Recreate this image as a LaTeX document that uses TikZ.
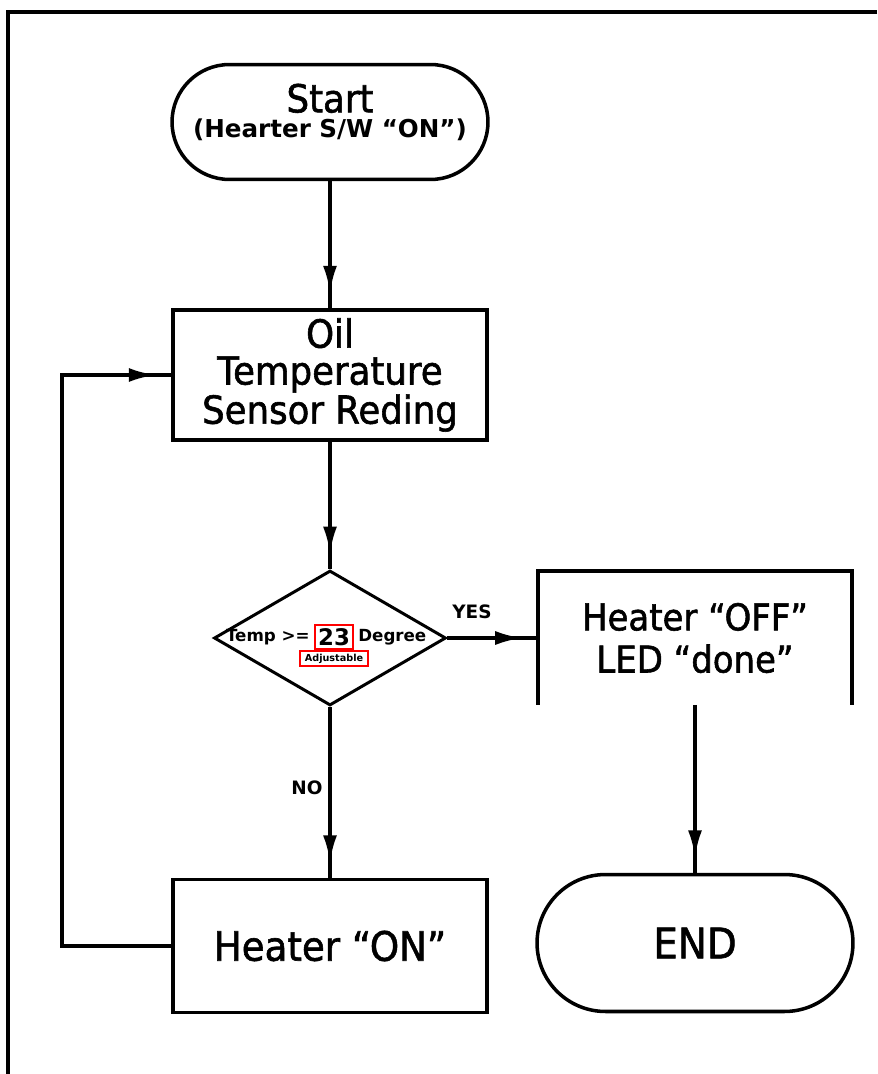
\documentclass[tikz,border=0pt]{standalone}
\usepackage{fontspec}
\setmainfont[FakeStretch=0.92,FakeBold=1.5]{DejaVu Sans}
\newfontfamily\tagfont{DejaVu Sans}
\usetikzlibrary{positioning,shapes.geometric,shapes.misc,decorations.markings,arrows.meta}

\begin{document}
\begin{tikzpicture}[
  x=0.02cm, y=-0.02cm,
  line/.style={line width=2.2pt, draw=black},
  flow/.style={line width=2.2pt, postaction={decorate},
    decoration={markings, mark=at position -0.3cm with {\arrow{Latex[length=0.55cm,width=0.28cm]}}}},
  term/.style={rounded rectangle, draw, line width=2pt, minimum width=6.32cm, minimum height=2.3cm, inner sep=0pt},
  proc/.style={rectangle, draw, line width=2pt, minimum width=6.28cm, minimum height=2.6cm, inner sep=0pt},
  decide/.style={diamond, draw, line width=1.7pt, minimum width=4.64cm, minimum height=2.7cm, inner sep=0pt},
  bigtxt/.style={font=\fontsize{22}{21}\selectfont, align=center},
  tag/.style={font=\tagfont\bfseries\fontsize{9.5}{12}\selectfont, inner sep=0pt},
  redbox/.style={draw=red, line width=1.2pt},
]
\useasboundingbox (0,0) rectangle (877,1074);
% ---------- sheet frame ----------
\draw[line] (877,12) -- (8,12) -- (8,1074);

% ---------- left column ----------
\node[term] (start) at (330,122) {};
\node[align=center, inner sep=0pt] (starttxt) at (330,112)
  {{\fontsize{22}{24}\selectfont Start}\\[2pt]{\tagfont\bfseries\fontsize{14}{15}\selectfont (Hearter S/W “ON”)}};
\node[proc, bigtxt] (sensor) at (330,375) {Oil\\Temperature\\Sensor Reding};
\node[decide] (check) at (330,638) {};
\node[proc, minimum height=2.66cm, bigtxt, font=\fontsize{23}{24}\selectfont] (heaton) at (330,946) {Heater “ON”};

% condition text inside the diamond
\node[redbox, font=\tagfont\bfseries\fontsize{13}{14}\selectfont, inner sep=2pt] (val) at (334,637) {23};
\node[tag, left=2pt of val] (lhs) {Temp >=};
\node[tag, right=2pt of val] (rhs) {Degree};
\node[redbox, below=0pt of val, font=\tagfont\bfseries\fontsize{5.5}{6}\selectfont, inner xsep=3pt, inner ysep=1.5pt] (adj) {Adjustable};

% ---------- right column ----------
\node[minimum width=6.28cm, minimum height=2.66cm, inner sep=0pt, bigtxt, font=\fontsize{21}{24}\selectfont] (heatoff) at (695,638) {Heater “OFF”\\LED “done”};
\draw[line] (heatoff.south west) -- (heatoff.north west) -- (heatoff.north east) -- (heatoff.south east);
\node[term, minimum height=2.74cm, font=\fontsize{24}{26}\selectfont] (stop) at (695,943) {END};

% ---------- connectors ----------
\coordinate (loopx) at (62,0);
\draw[flow] (start) -- (sensor);
\draw[flow] (sensor) -- (check);
\draw[flow] (check.east) -- (heatoff.west);
\draw[flow] (check.south) -- (heaton.north);
\draw[flow] (heatoff.south) -- (stop.north);
\draw[flow] (heaton.west) -- (heaton.west -| loopx) |- (sensor.west);

% ---------- branch labels ----------
\node[tag, font=\tagfont\bfseries\fontsize{10.5}{12}\selectfont] (yes) at (472,612) {YES};
\node[tag, font=\tagfont\bfseries\fontsize{10.5}{12}\selectfont] (no) at (307,788) {NO};
\end{tikzpicture}
\end{document}
